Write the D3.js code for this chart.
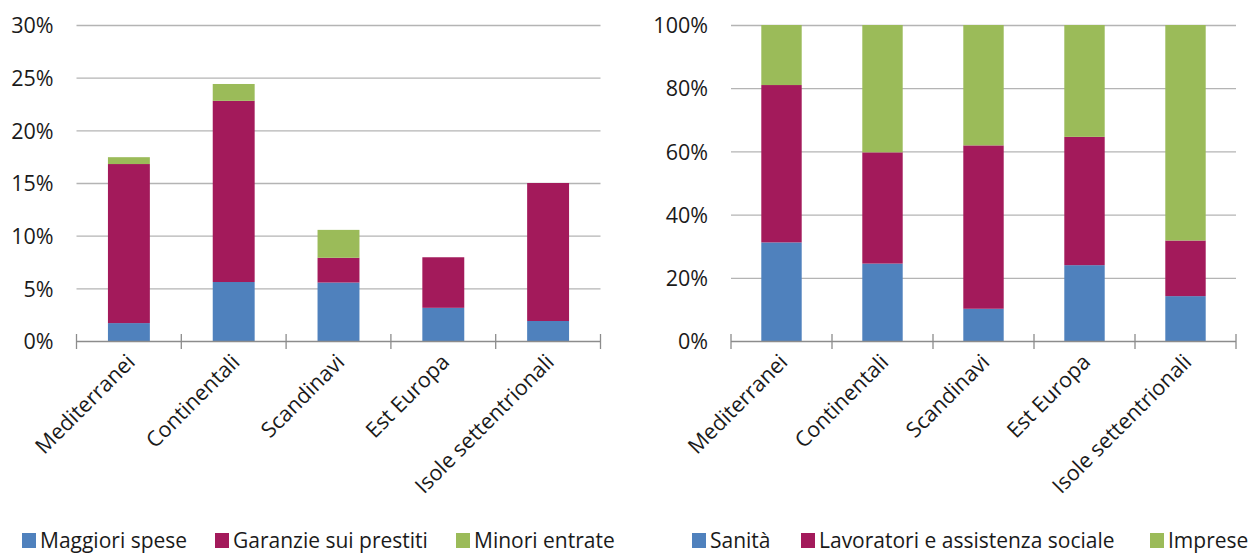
<!doctype html>
<html lang="it">
<head>
<meta charset="utf-8">
<title>Grafici</title>
<script src="https://cdn.jsdelivr.net/npm/d3@7"></script>
<style>
  body { margin: 0; background: #fff; }
  svg { display: block; font-family: "Open Sans", sans-serif; }
  .tick text { fill: #1a1a1a; }
</style>
</head>
<body>
<script>
var categories = ["Mediterranei", "Continentali", "Scandinavi", "Est Europa", "Isole settentrionali"];

// left chart (share, %)
var leftKeys = ["Maggiori spese", "Garanzie sui prestiti", "Minori entrate"];
var maggioriSpese = [1.7, 5.6, 5.55, 3.15, 1.9];
var garanzie = [15.1, 17.2, 2.35, 4.8, 13.1];
var minoriEntrate = [0.65, 1.6, 2.65, 0, 0];
var leftTicks = [0, 5, 10, 15, 20, 25, 30];

// right chart (composition, %)
var rightKeys = ["Sanità", "Lavoratori e assistenza sociale", "Imprese"];
var sanita = [31.2, 24.5, 10.2, 24.0, 14.2];
var lavoratori = [49.8, 35.2, 51.7, 40.6, 17.6];
var imprese = [19.0, 40.3, 38.1, 35.4, 68.2];
var rightTicks = [0, 20, 40, 60, 80, 100];

var colors = ["#4f81bd", "#a31a5b", "#9bbb59"];
var fs = 21.5;

var W = 1249, H = 557;
var svg = d3.select("body").append("svg")
            .attr("width", W)
            .attr("height", H);

function drawChart(opt) {
    var rows = categories.map(function (c, i) {
        var r = { cat: c };
        opt.keys.forEach(function (k, j) { r[k] = opt.series[j][i]; });
        return r;
    });

    var x = d3.scaleBand()
              .domain(categories)
              .range([opt.x0, opt.x1])
              .paddingInner(0.6)
              .paddingOuter(0.3);
    var xt = d3.scaleBand().domain(categories).range([opt.x0, opt.x1]);

    var y = d3.scaleLinear()
              .domain([0, opt.max])
              .range([341, 25]);

    var g = svg.append("g");

    // gridlines
    g.selectAll("line.grid")
     .data(opt.ticks.slice(1))
     .enter()
     .append("line")
     .attr("class", "grid")
     .attr("x1", opt.x0).attr("x2", opt.x1)
     .attr("y1", d => y(d) + 0.5).attr("y2", d => y(d) + 0.5)
     .attr("stroke", "#b4b4b4")
     .attr("stroke-width", 1.3);

    var stack = d3.stack().keys(opt.keys);
    var series = stack(rows);

    g.selectAll("g.layer")
     .data(series)
     .enter()
     .append("g")
     .attr("class", "layer")
     .attr("fill", (_, i) => colors[i])
     .selectAll("rect")
     .data(d => d)
     .enter()
     .append("rect")
     .attr("x", d => x(d.data.cat))
     .attr("width", x.bandwidth())
     .attr("y", d => y(d[1]))
     .attr("height", d => y(d[0]) - y(d[1]));

    // y axis labels
    var yAxis = d3.axisLeft(y)
                  .tickValues(opt.ticks)
                  .tickSize(0)
                  .tickPadding(0)
                  .tickFormat(d => d + "%");
    var ya = g.append("g")
              .attr("transform", "translate(" + (opt.x0 - 23) + ",0)")
              .call(yAxis);
    ya.select(".domain").remove();
    ya.selectAll("text")
      .attr("font-size", fs)
      .attr("font-family", "Open Sans")
      .attr("dy", "0.36em");

    // x axis
    g.append("line")
     .attr("x1", opt.x0).attr("x2", opt.x1)
     .attr("y1", 341.5).attr("y2", 341.5)
     .attr("stroke", "#8c8c8c")
     .attr("stroke-width", 1.5);

    var edges = categories.map(c => xt(c)).concat([opt.x1]);
    g.selectAll("line.xtick")
     .data(edges)
     .enter()
     .append("line")
     .attr("class", "xtick")
     .attr("x1", d => d).attr("x2", d => d)
     .attr("y1", 334).attr("y2", 349)
     .attr("stroke", "#8c8c8c")
     .attr("stroke-width", 1.3);

    g.selectAll("text.cat")
     .data(categories)
     .enter()
     .append("text")
     .attr("class", "cat")
     .attr("text-anchor", "end")
     .attr("font-size", fs)
     .attr("fill", "#1a1a1a")
     .attr("transform", d => "translate(" + (xt(d) + xt.bandwidth() / 2 + 2) + ",358) rotate(-45)")
     .attr("dy", "0.35em")
     .text(d => d);

    // legend
    var leg = g.selectAll("g.leg")
               .data(opt.keys)
               .enter()
               .append("g")
               .attr("class", "leg")
               .attr("transform", (_, i) => "translate(" + opt.legendX[i] + ",548)");
    leg.append("rect")
       .attr("x", 0).attr("y", -15)
       .attr("width", 14).attr("height", 15)
       .attr("fill", (_, i) => colors[i]);
    leg.append("text")
       .attr("x", 18)
       .attr("y", 0)
       .attr("font-size", 21)
       .attr("fill", "#1a1a1a")
       .text(d => d);
}

drawChart({
    keys: leftKeys,
    series: [maggioriSpese, garanzie, minoriEntrate],
    ticks: leftTicks,
    max: 30,
    x0: 76.5, x1: 600.5,
    legendX: [22, 215, 456]
});

drawChart({
    keys: rightKeys,
    series: [sanita, lavoratori, imprese],
    ticks: rightTicks,
    max: 100,
    x0: 731, x1: 1236,
    legendX: [692, 801, 1150]
});
</script>
</body>
</html>
